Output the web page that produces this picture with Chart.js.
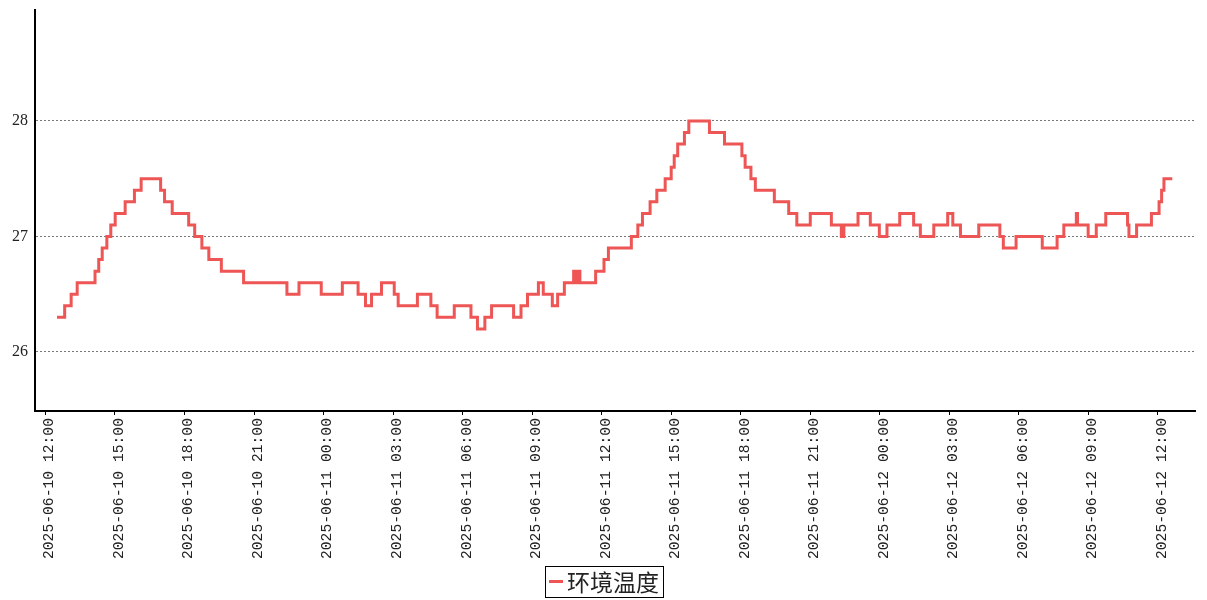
<!DOCTYPE html>
<html>
<head>
<meta charset="utf-8">
<script src="https://cdn.jsdelivr.net/npm/chart.js@4/dist/chart.umd.min.js"></script>
<style>
  html, body { margin: 0; padding: 0; background: #fff; }
  #wrap { width: 1207px; height: 600px; }
</style>
</head>
<body>
<div id="wrap"><canvas id="tempChart" width="1207" height="600"></canvas></div>
<script>
// hours since 2025-06-10 00:00, value holds until the next entry
const hours = [
  12.50, 12.83, 13.11, 13.37, 14.14, 14.30, 14.45, 14.65, 14.82, 15.01,
  15.44, 15.84, 16.13, 16.97, 17.14, 17.47, 18.18, 18.44, 18.75, 19.05,
  19.59, 20.55, 22.42, 22.94, 23.90, 24.81, 25.49, 25.81, 26.07, 26.50,
  27.05, 27.22, 28.05, 28.63, 28.90, 29.64, 30.36, 30.64, 30.96, 31.25,
  32.20, 32.52, 32.80, 33.27, 33.48, 33.87, 34.10, 34.39, 34.79, 34.88,
  34.94, 35.06, 35.74, 36.10, 36.29, 37.28, 37.56, 37.76, 38.09, 38.38,
  38.74, 39.00, 39.13, 39.28, 39.57, 39.76, 40.65, 41.30, 42.05, 42.19,
  42.44, 42.63, 43.45, 44.07, 44.42, 45.00, 45.91, 46.34, 46.45, 47.06,
  47.59, 47.98, 48.31, 48.86, 49.46, 49.75, 50.33, 50.93, 51.15, 51.48,
  52.27, 53.18, 53.33, 53.88, 55.01, 55.65, 55.94, 56.48, 56.53, 56.99,
  57.34, 57.75, 58.69, 58.75, 59.08, 59.72, 60.05, 60.16, 60.26, 60.62
];
const temps = [
  26.3, 26.4, 26.5, 26.6, 26.7, 26.8, 26.9, 27.0, 27.1, 27.2,
  27.3, 27.4, 27.5, 27.4, 27.3, 27.2, 27.1, 27.0, 26.9, 26.8,
  26.7, 26.6, 26.5, 26.6, 26.5, 26.6, 26.5, 26.4, 26.5, 26.6,
  26.5, 26.4, 26.5, 26.4, 26.3, 26.4, 26.3, 26.2, 26.3, 26.4,
  26.3, 26.4, 26.5, 26.6, 26.5, 26.4, 26.5, 26.6, 26.7, 26.6,
  26.7, 26.6, 26.7, 26.8, 26.9, 27.0, 27.1, 27.2, 27.3, 27.4,
  27.5, 27.6, 27.7, 27.8, 27.9, 28.0, 27.9, 27.8, 27.7, 27.6,
  27.5, 27.4, 27.3, 27.2, 27.1, 27.2, 27.1, 27.0, 27.1, 27.2,
  27.1, 27.0, 27.1, 27.2, 27.1, 27.0, 27.1, 27.2, 27.1, 27.0,
  27.1, 27.0, 26.9, 27.0, 26.9, 27.0, 27.1, 27.2, 27.1, 27.0,
  27.1, 27.2, 27.1, 27.0, 27.1, 27.2, 27.3, 27.4, 27.5, 27.5
];

const xTickHours = [12, 15, 18, 21, 24, 27, 30, 33, 36, 39, 42, 45, 48, 51, 54, 57, 60];
const xTickLabels = [
  '2025-06-10 12:00', '2025-06-10 15:00', '2025-06-10 18:00', '2025-06-10 21:00',
  '2025-06-11 00:00', '2025-06-11 03:00', '2025-06-11 06:00', '2025-06-11 09:00',
  '2025-06-11 12:00', '2025-06-11 15:00', '2025-06-11 18:00', '2025-06-11 21:00',
  '2025-06-12 00:00', '2025-06-12 03:00', '2025-06-12 06:00', '2025-06-12 09:00',
  '2025-06-12 12:00'
];
const yTicks = [26, 27, 28];
const seriesName = '环境温度';
const lineColor = '#ee5555';

// framed legend under the axis labels, centred on the canvas
const boxLegend = {
  id: 'boxLegend',
  afterDraw(chart) {
    const ds = chart.data.datasets[0];
    const ctx = chart.ctx;
    ctx.save();
    ctx.font = "23px 'Noto Sans CJK SC', serif";
    const textW = ctx.measureText(ds.label).width;
    const boxW = 4 + 14 + 4 + textW + 4;
    const left = Math.round(chart.width / 2 - boxW / 2);
    const top = 566;
    ctx.strokeStyle = '#000';
    ctx.lineWidth = 1;
    ctx.strokeRect(left + 0.5, top + 0.5, boxW, 31);
    ctx.strokeStyle = ds.borderColor;
    ctx.lineWidth = 3;
    ctx.beginPath();
    ctx.moveTo(left + 4, top + 15.5);
    ctx.lineTo(left + 18, top + 15.5);
    ctx.stroke();
    ctx.fillStyle = '#222';
    ctx.textBaseline = 'middle';
    ctx.fillText(ds.label, left + 22, top + 16);
    ctx.restore();
  }
};

const ctx = document.getElementById('tempChart').getContext('2d');
new Chart(ctx, {
  type: 'line',
  data: {
    datasets: [{
      label: seriesName,
      data: hours.map((h, i) => ({ x: h, y: temps[i] })),
      borderColor: lineColor,
      backgroundColor: lineColor,
      borderWidth: 3,
      stepped: true,
      pointRadius: 0,
      fill: false
    }]
  },
  options: {
    responsive: false,
    animation: false,
    layout: { padding: { top: 10, right: 12, left: 0, bottom: 0 } },
    plugins: {
      tooltip: { enabled: false },
      legend: { display: false }
    },
    scales: {
      x: {
        type: 'linear',
        min: 11.55,
        max: 61.6,
        afterBuildTicks: axis => { axis.ticks = xTickHours.map(v => ({ value: v })); },
        afterFit: axis => {
          axis.height = 600 - 411;
          axis.paddingLeft = 0;
          axis.paddingRight = 0;
        },
        grid: { display: true, drawOnChartArea: false, drawTicks: true, tickLength: 4, color: '#000', lineWidth: 1 },
        border: { display: true, color: '#000', width: 2 },
        ticks: {
          autoSkip: false,
          minRotation: 90,
          maxRotation: 90,
          padding: 3,
          labelOffset: 4,
          color: '#222',
          font: { family: "'Liberation Mono', monospace", size: 14.7 },
          callback: value => {
            const i = xTickHours.indexOf(value);
            return i >= 0 ? xTickLabels[i] : '';
          }
        }
      },
      y: {
        min: 25.489,
        max: 28.961,
        afterBuildTicks: axis => { axis.ticks = yTicks.map(v => ({ value: v })); },
        afterFit: axis => {
          axis.width = 35;
          axis.paddingTop = 0;
          axis.paddingBottom = 0;
        },
        grid: { color: '#777', lineWidth: 1, drawTicks: false },
        border: { display: true, color: '#000', width: 2, dash: [2, 2] },
        ticks: {
          padding: 7,
          color: '#222',
          font: { family: "'Liberation Serif', serif", size: 16 }
        }
      }
    }
  },
  plugins: [boxLegend]
});
</script>
</body>
</html>
